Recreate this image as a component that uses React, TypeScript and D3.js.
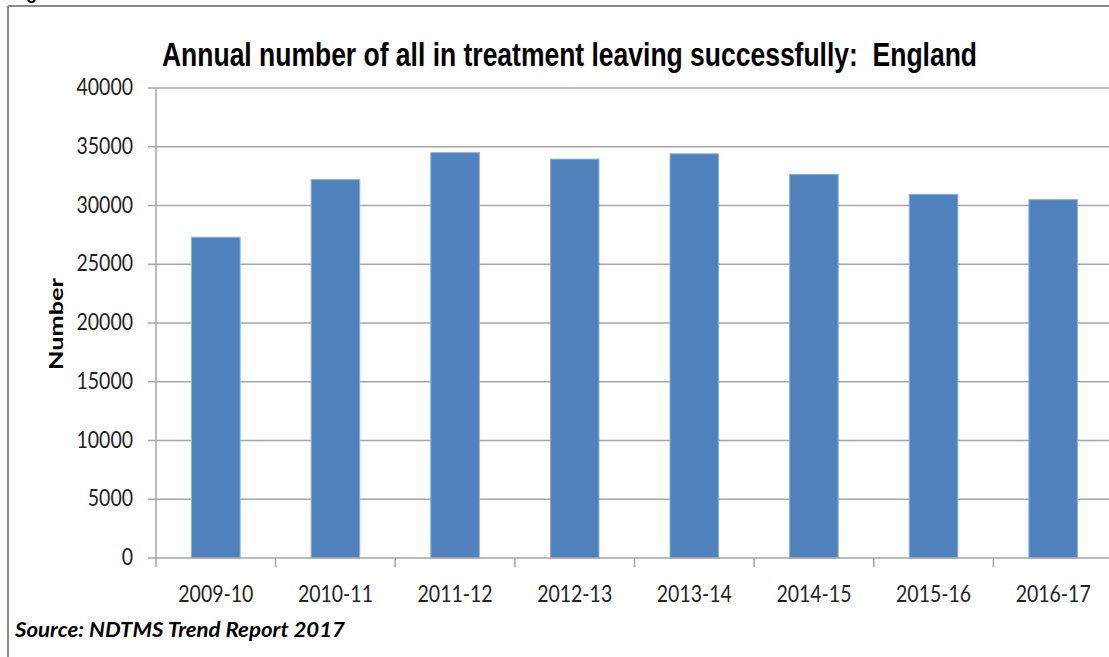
import React from "react";
import * as d3 from "d3";

const categories = ["2009-10", "2010-11", "2011-12", "2012-13", "2013-14", "2014-15", "2015-16", "2016-17"];
const values = [27300, 32200, 34500, 33950, 34400, 32650, 30950, 30500];
const yTicks = [0, 5000, 10000, 15000, 20000, 25000, 30000, 35000, 40000];
const titleText = "Annual number of all in treatment leaving successfully:  England";
const yLabel = "Number";
const sourceText = "Source: NDTMS Trend Report 2017";

const W = 1109;
const H = 657;
const left = 156;
const right = 1113;
const top = 88;
const bottom = 558;

export default function App() {
  const x = d3.scaleBand<string>().domain(categories).range([left, right]).paddingInner(0.594).paddingOuter(0.297);
  const y = d3.scaleLinear().domain([0, 40000]).range([bottom, top]);
  const step = x.step();
  const axisFont = "Lato, 'Open Sans', sans-serif";
  const gridColor = "#a6a6a6";
  return (
    <svg width={W} height={H} style={{ position: "absolute", left: 0, top: 0, background: "#fff" }}>
      <rect x={0} y={0} width={W} height={H} fill="#fff" />
      <text x={10} y={-1} fontFamily="'Liberation Sans', Arial, sans-serif" fontWeight="bold" fontSize={18} fill="#000">Figure</text>
      {/* border */}
      <line x1={8} y1={6} x2={W} y2={6} stroke="#8a8a8a" strokeWidth={2} />
      <line x1={8} y1={6} x2={8} y2={H} stroke="#8a8a8a" strokeWidth={2} />
      {/* title */}
      <text x={162} y={66} fontFamily="'Liberation Sans', Arial, sans-serif" fontWeight="bold" fontSize={33} textLength={815} lengthAdjust="spacingAndGlyphs" fill="#000" style={{ whiteSpace: "pre" }}>{titleText}</text>
      {/* grid */}
      {yTicks.map((t) => (
        <g key={t}>
          {t > 0 && <line x1={left} x2={W} y1={y(t)} y2={y(t)} stroke={gridColor} strokeWidth={1.5} />}
          <line x1={148} x2={left} y1={y(t)} y2={y(t)} stroke={gridColor} strokeWidth={1.5} />
          <text transform={`translate(133,${y(t) + 7}) scale(1,1.2)`} textAnchor="end" fontFamily={axisFont} fontSize={19.5} fill="#222">{t}</text>
        </g>
      ))}
      {/* bars */}
      {categories.map((c, i) => (
        <rect key={c} x={x(c)!} y={y(values[i])} width={x.bandwidth()} height={y(0) - y(values[i])} fill="#4f81bd" stroke="#8fb0da" strokeWidth={1} />
      ))}
      {/* axes */}
      <line x1={left} x2={left} y1={top} y2={bottom} stroke={gridColor} strokeWidth={1.5} />
      <line x1={left} x2={W} y1={bottom} y2={bottom} stroke={gridColor} strokeWidth={1.5} />
      {categories.map((c, i) => {
        const bx = x(c)! + x.bandwidth() / 2 - step / 2;
        return <line key={"t" + c} x1={bx} x2={bx} y1={bottom} y2={bottom + 9} stroke={gridColor} strokeWidth={1.5} />;
      })}
      {categories.map((c) => (
        <text key={"l" + c} transform={`translate(${x(c)! + x.bandwidth() / 2},602) scale(1,1.2)`} textAnchor="middle" fontFamily={axisFont} fontSize={19.5} fill="#222">{c}</text>
      ))}
      {/* y label */}
      <text transform={`translate(63,324) rotate(-90)`} textAnchor="middle" fontFamily={axisFont} fontWeight="bold" fontSize={19} textLength={92} lengthAdjust="spacingAndGlyphs" fill="#000">{yLabel}</text>
      {/* source */}
      <text x={15} y={637} fontFamily={axisFont} fontWeight="bold" fontStyle="italic" fontSize={21} textLength={330} lengthAdjust="spacingAndGlyphs" fill="#000">{sourceText}</text>
    </svg>
  );
}
